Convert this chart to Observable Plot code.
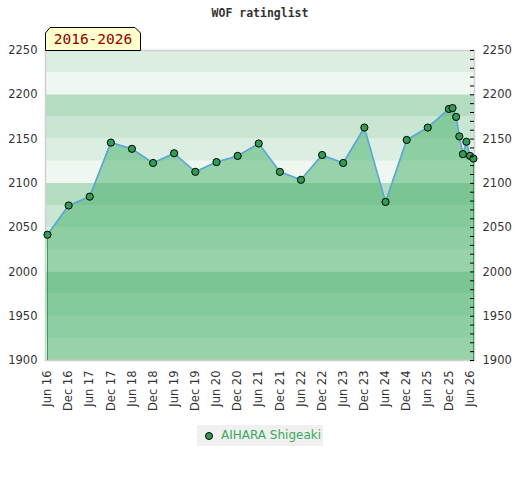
<!DOCTYPE html>
<html>
<head>
<meta charset="utf-8">
<script src="https://cdn.jsdelivr.net/npm/d3@7"></script>
<script src="https://cdn.jsdelivr.net/npm/@observablehq/plot@0.6"></script>
<style>
  body { margin: 0; background: #fff; }
  #wrap { position: relative; width: 520px; height: 480px; overflow: hidden; }
  #title { position: absolute; top: 6px; left: 0; width: 520px; text-align: center;
    font-family: "DejaVu Sans Mono", monospace; font-weight: bold; font-size: 11.5px; color: #333; }
  #chart { position: absolute; top: 0; left: 0; }
  #badge { position: absolute; left: 45px; top: 27px; }
  #legend { position: absolute; top: 425px; left: 197px; width: 126px; height: 21px;
    background: #f0f0f0; font-family: "DejaVu Sans", sans-serif; font-size: 12px; color: #3aaa5c; }
  #legend .dot { position: absolute; left: 8px; top: 7px; width: 6px; height: 6px; border-radius: 50%;
    background: #2f9e55; border: 1px solid #000; }
  #legend .lab { position: absolute; left: 24px; top: 3px; white-space: nowrap; }
</style>
</head>
<body>
<div id="wrap">
  <div id="chart"></div>
  <div id="title">WOF ratinglist</div>
  <svg id="badge" width="96" height="24">
    <polygon points="5,0.5 90,0.5 95.5,6 95.5,23.5 0.5,23.5 0.5,6" fill="#ffffcc" stroke="#000" stroke-width="1"/>
    <text x="48" y="17" text-anchor="middle" font-family="DejaVu Sans Mono, monospace" font-size="14.5" fill="#8b0000">2016-2026</text>
  </svg>
  <div id="legend"><span class="dot"></span><span class="lab">AIHARA Shigeaki</span></div>
</div>
<script>
const dates = ["2016-06","2016-12","2017-06","2017-12","2018-06","2018-12","2019-06","2019-12",
  "2020-06","2020-12","2021-06","2021-12","2022-06","2022-12","2023-06","2023-12","2024-06","2024-12",
  "2025-06","2025-12","2026-01","2026-02","2026-03","2026-04","2026-05","2026-06","2026-07"];
const ratings = [2042,2075,2085,2146,2139,2123,2134,2113,2124,2131,2145,2113,2104,2132,2123,2163,
  2079,2149,2163,2184,2185,2175,2153,2133,2147,2131,2128];
const yLabels = [1900,1950,2000,2050,2100,2150,2200,2250];
const yMinor = d3.range(1900, 2251, 10);
const xTicks = d3.utcMonths(new Date("2016-06-01"), new Date("2026-06-02"), 6);
const bandColors = ["#eff7f1","#dbeee1","#c8e6d1","#b3dcc1"];
const bandStarts = d3.range(1900, 2250, 25);

const data = dates.map((d, i) => ({date: new Date(d + "-01"), rating: ratings[i]}));
const bands = bandStarts.map(s => ({y1: s, y2: s + 25, fill: bandColors[(s / 25) % 4]}));
const ends = [data[0], data[data.length - 1]];

const chart = Plot.plot({
  width: 520,
  height: 420,
  marginLeft: 45,
  marginRight: 46,
  marginTop: 50,
  marginBottom: 60,
  style: {fontFamily: "DejaVu Sans, sans-serif", fontSize: "11.5px", color: "#333", background: "transparent"},
  x: {type: "utc", domain: [new Date("2016-05-15"), new Date("2026-07-10")]},
  y: {domain: [1900, 2250]},
  marks: [
    Plot.rect(bands, {y1: "y1", y2: "y2", fill: "fill"}),
    Plot.areaY(data, {x: "date", y1: 1900, y2: "rating", fill: "#47b06a", fillOpacity: 0.52}),
    Plot.frame({stroke: "#d0d0d0", strokeWidth: 1.5}),
    Plot.ruleX(ends, {x: "date", y1: 1900, y2: "rating", stroke: "#2e9e50", strokeWidth: 1}),
    Plot.line(data, {x: "date", y: "rating", stroke: "#5aa5dc", strokeWidth: 1.6}),
    Plot.dot(data, {x: "date", y: "rating", r: 3.6, fill: "#2f9e55", stroke: "#000", strokeWidth: 1}),
    Plot.axisX({ticks: xTicks, tickFormat: d3.utcFormat("%b %y"), tickRotate: -90, tickSize: 0,
      tickPadding: 10, label: null, fill: "#333"}),
    Plot.axisY({anchor: "left", ticks: yLabels, tickFormat: "d", tickSize: 0, tickPadding: 8, label: null, fill: "#333"}),
    Plot.axisY({anchor: "right", ticks: yLabels, tickFormat: "d", tickSize: 0, tickPadding: 8, label: null, fill: "#333"}),
    Plot.axisY({anchor: "right", ticks: yMinor, tickSize: -4, text: null, label: null, stroke: "#000", dx: -1})
  ]
});
document.getElementById("chart").appendChild(chart);
</script>
</body>
</html>
